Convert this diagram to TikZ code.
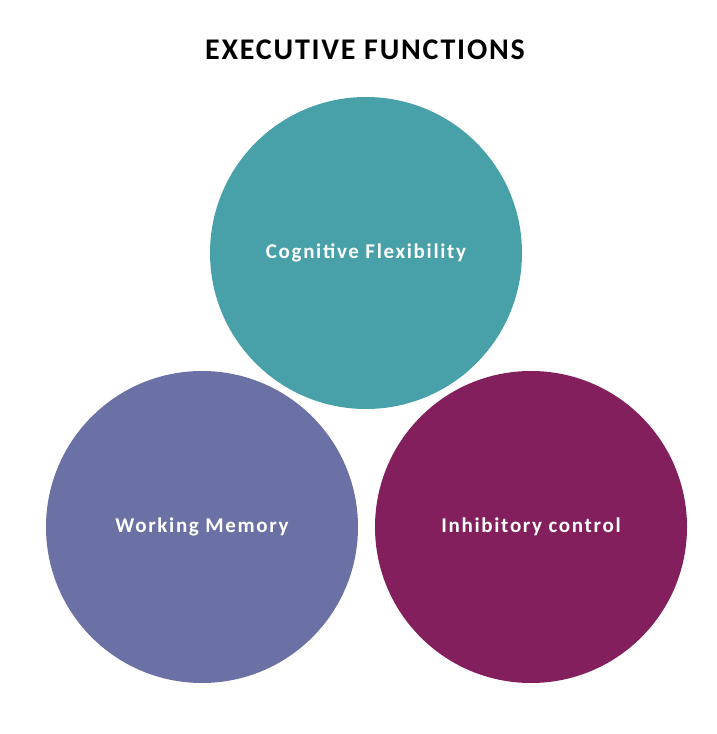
\documentclass[tikz,border=0pt]{standalone}
\usepackage{fontspec}
\setmainfont{Carlito}
\definecolor{cteal}{HTML}{48A0A8}
\definecolor{cblue}{HTML}{6C71A5}
\definecolor{cmaroon}{HTML}{821F5C}
\begin{document}
\begin{tikzpicture}[x=1pt,y=1pt,
  circ/.style={circle,minimum size=312pt,inner sep=0pt,text=white,font=\fontsize{21}{24}\selectfont\bfseries\addfontfeature{LetterSpace=8}}]
\useasboundingbox (0,0) rectangle (716,734);
\node[font=\fontsize{30}{34}\selectfont\bfseries\addfontfeature{LetterSpace=6}] (title) at (365,684) {EXECUTIVE FUNCTIONS};
\node[circ,fill=cteal] (cf) at (366,481) {Cognitive Flexibility};
\node[circ,fill=cblue] (wm) at (202,207) {Working Memory};
\node[circ,fill=cmaroon] (ic) at (531,207) {Inhibitory control};
\end{tikzpicture}
\end{document}
